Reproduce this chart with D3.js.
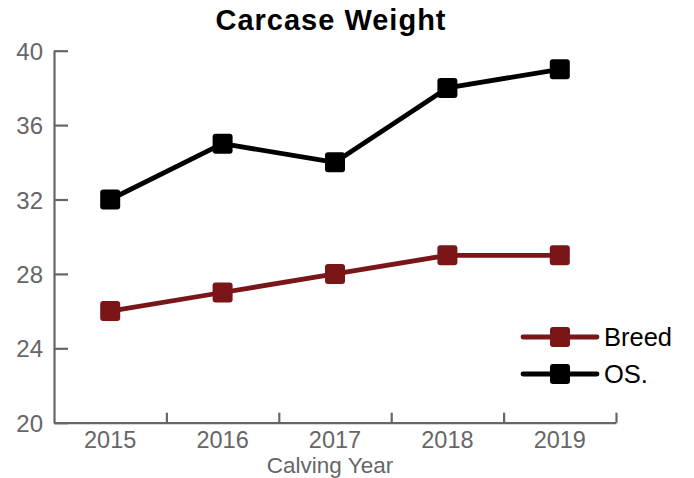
<!DOCTYPE html>
<html>
<head>
<meta charset="utf-8">
<script src="https://cdn.jsdelivr.net/npm/d3@7"></script>
<style>
  body { margin: 0; background: #fff; }
  text { font-family: "Liberation Sans", Arial, sans-serif; }
</style>
</head>
<body>
<div id="chart"></div>
<script>
const years = [2015, 2016, 2017, 2018, 2019];
const breed = [26, 27, 28, 29, 29];
const os = [32, 35, 34, 38, 39];
const yTicks = [20, 24, 28, 32, 36, 40];
const xBoundaries = [2014.5, 2015.5, 2016.5, 2017.5, 2018.5, 2019.5];

const series = [
    { name: "Breed", values: breed, color: "#7a1518" },
    { name: "OS.", values: os, color: "#000000" }
];

const width = 694, height = 478;
const axisColor = "#666666";

const svg = d3.select("#chart")
    .append("svg")
    .attr("width", width)
    .attr("height", height);

// Skalen
const x = d3.scaleLinear().domain([2014.5, 2019.5]).range([54, 616]);
const y = d3.scaleLinear().domain([20, 40]).range([422.7, 50.7]);

// Titel
svg.append("text")
    .attr("x", 331)
    .attr("y", 30)
    .attr("text-anchor", "middle")
    .attr("font-size", "29px")
    .attr("font-weight", "bold")
    .attr("letter-spacing", "1px")
    .attr("fill", "#000")
    .text("Carcase Weight");

// Y-Achse, Ticks nach innen
const yAxis = svg.append("g")
    .attr("transform", `translate(${x.range()[0]},0)`)
    .call(d3.axisRight(y).tickValues(yTicks).tickSize(14).tickSizeOuter(0).tickFormat(d3.format("d")));
yAxis.select(".domain").attr("stroke", axisColor).attr("stroke-width", 2.2);
yAxis.selectAll(".tick line").attr("stroke", axisColor).attr("stroke-width", 2.2);
yAxis.selectAll(".tick text")
    .attr("x", -11)
    .attr("text-anchor", "end")
    .attr("dy", "0.36em")
    .attr("fill", axisColor)
    .attr("font-size", "24px")
    .attr("font-family", "'Liberation Sans', Arial, sans-serif");

// X-Achse: Grenzticks nach oben, Jahreslabels in der Mitte
const xAxis = svg.append("g")
    .attr("transform", `translate(0,${y.range()[0]})`)
    .call(d3.axisTop(x).tickValues(xBoundaries.slice(1)).tickSize(10).tickSizeOuter(0).tickFormat(""));
xAxis.select(".domain").attr("stroke", axisColor).attr("stroke-width", 2.2);
xAxis.selectAll(".tick line").attr("stroke", axisColor).attr("stroke-width", 2.2);

svg.append("g")
    .selectAll("text")
    .data(years)
    .join("text")
    .attr("x", d => x(d))
    .attr("y", 448)
    .attr("text-anchor", "middle")
    .attr("fill", axisColor)
    .attr("font-size", "23.5px")
    .text(d => d);

svg.append("text")
    .attr("x", 330)
    .attr("y", 473)
    .attr("text-anchor", "middle")
    .attr("fill", axisColor)
    .attr("font-size", "22.5px")
    .text("Calving Year");

// Linien und Marker
const line = d3.line()
    .x((d, i) => x(years[i]))
    .y(d => y(d));

const markerSize = 20;

series.forEach(s => {
    svg.append("path")
        .datum(s.values)
        .attr("d", line)
        .attr("fill", "none")
        .attr("stroke", s.color)
        .attr("stroke-width", 4.8)
        .attr("stroke-linejoin", "round");

    svg.append("g")
        .selectAll("rect")
        .data(s.values)
        .join("rect")
        .attr("x", (d, i) => x(years[i]) - markerSize / 2)
        .attr("y", d => y(d) - markerSize / 2)
        .attr("width", markerSize)
        .attr("height", markerSize)
        .attr("rx", 3)
        .attr("fill", s.color);
});

// Legende
const legend = svg.append("g");
series.forEach((s, i) => {
    const ly = 337 + i * 37;
    legend.append("line")
        .attr("x1", 523)
        .attr("x2", 597)
        .attr("y1", ly)
        .attr("y2", ly)
        .attr("stroke", s.color)
        .attr("stroke-width", 4.8)
        .attr("stroke-linecap", "round");
    legend.append("rect")
        .attr("x", 560 - markerSize / 2)
        .attr("y", ly - markerSize / 2)
        .attr("width", markerSize)
        .attr("height", markerSize)
        .attr("rx", 3)
        .attr("fill", s.color);
    legend.append("text")
        .attr("x", 604)
        .attr("y", ly)
        .attr("dy", "0.36em")
        .attr("font-size", "25.5px")
        .attr("fill", "#000")
        .text(s.name);
});
</script>
</body>
</html>
